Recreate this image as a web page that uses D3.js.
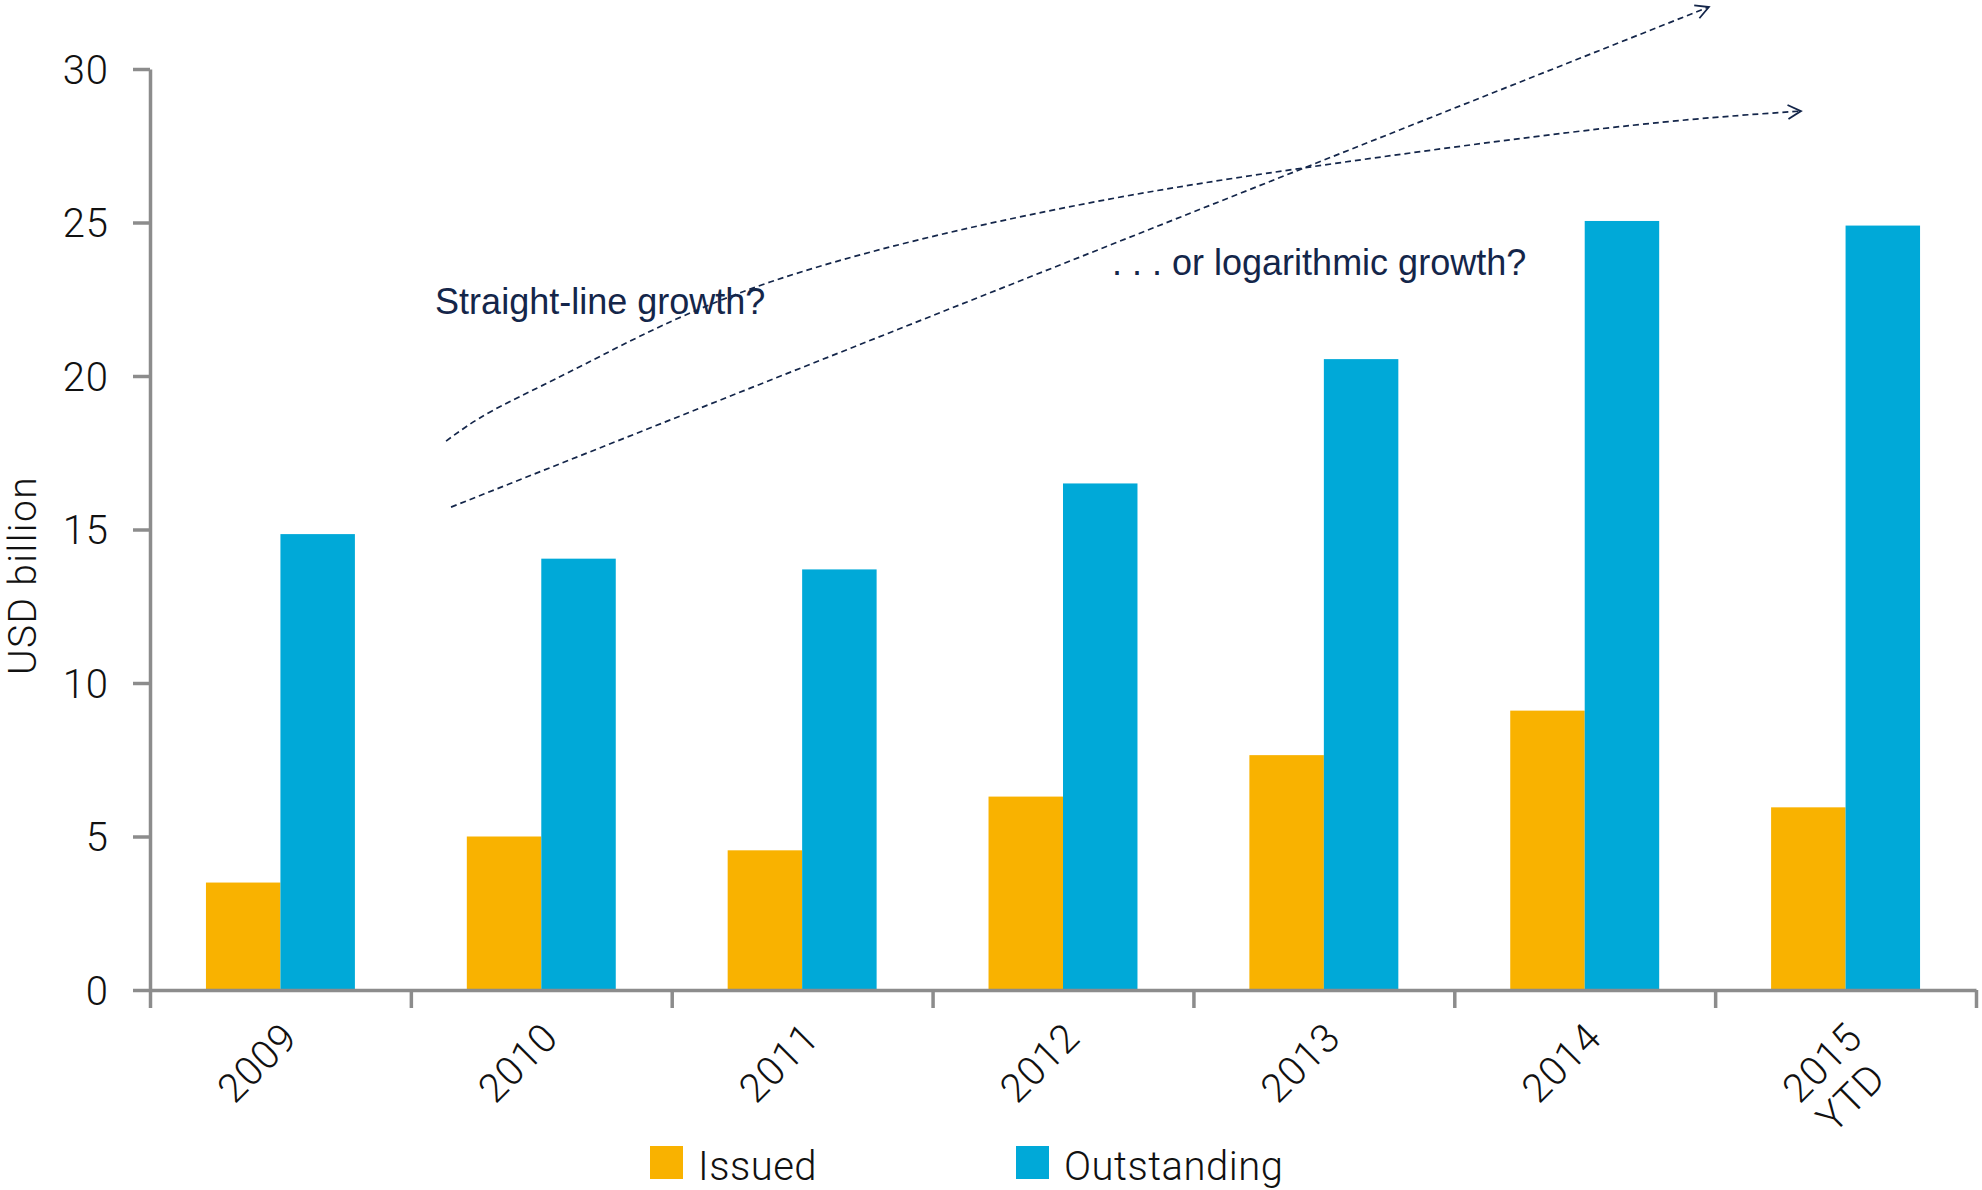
<!DOCTYPE html>
<html>
<head>
<meta charset="utf-8">
<script src="https://cdn.jsdelivr.net/npm/d3@7"></script>
<style>
  html, body { margin: 0; padding: 0; background: #ffffff; }
  svg { display: block; }
</style>
</head>
<body>
<svg id="chart" width="1982" height="1190"></svg>
<script>
// ---- data ----
const categories = ["2009", "2010", "2011", "2012", "2013", "2014", "2015\nYTD"];
const seriesNames = ["Issued", "Outstanding"];
const issued = [3.5, 5.0, 4.55, 6.3, 7.65, 9.1, 5.95];
const outstanding = [14.85, 14.05, 13.7, 16.5, 20.55, 25.05, 24.9];
const yTicks = [0, 5, 10, 15, 20, 25, 30];
const yTitle = "USD billion";
// annotation paths in data units: [category position, value]
const straightLine = [[0.654, 15.73], [5.476, 32.02]];
const logCurve = [[0.635, 17.88], [0.813, 18.87], [1.168, 20.39], [1.877, 23.06], [2.941, 25.37], [3.916, 26.77], [5.069, 28.06], [5.829, 28.63]];
const annotations = [
  { text: "Straight-line growth?", at: [0.593, 22.02] },
  { text: ". . . or logarithmic growth?", at: [3.188, 23.29] }
];

// ---- styles ----
const colors = { Issued: "#F9B200", Outstanding: "#00A9D8" };
const axisColor = "#8c8c8c";
const navy = "#14264a";
const lightFont = "Roboto, 'Liberation Sans', Arial, sans-serif";
const annFont = "'Liberation Sans', Arial, sans-serif";

const svg = d3.select("#chart");
const mLeft = 150, mRight = 1976, mTop = 69, mBottom = 990;

const x0 = d3.scaleBand().domain(categories).range([mLeft, mRight]).paddingInner(0.429).paddingOuter(0.2145);
const x1 = d3.scaleBand().domain(seriesNames).range([0, x0.bandwidth()]);
const xb = d3.scaleLinear().domain([0, categories.length]).range([mLeft, mRight]);
const xc = d3.scaleLinear().domain([-0.5, categories.length - 0.5]).range([mLeft, mRight]);
const y = d3.scaleLinear().domain([0, 30]).range([mBottom, mTop]);

const rows = categories.map((c, i) => ({ cat: c, Issued: issued[i], Outstanding: outstanding[i] }));

// bars
const g = svg.append("g");
g.selectAll("g.grp").data(rows).join("g")
  .attr("class", "grp")
  .attr("transform", d => `translate(${x0(d.cat)},0)`)
  .selectAll("rect").data(d => seriesNames.map(k => ({ key: k, value: d[k] })))
  .join("rect")
  .attr("x", d => x1(d.key))
  .attr("width", x1.bandwidth())
  .attr("y", d => y(d.value))
  .attr("height", d => y(0) - y(d.value))
  .attr("fill", d => colors[d.key]);

// y axis
const yAxis = svg.append("g").attr("transform", `translate(${mLeft},0)`)
  .call(d3.axisLeft(y).tickValues(yTicks).tickSize(17).tickSizeOuter(0).tickPadding(24));
yAxis.select(".domain").attr("stroke", axisColor).attr("stroke-width", 3.5);
yAxis.selectAll(".tick line").attr("stroke", axisColor).attr("stroke-width", 3.5);
yAxis.selectAll(".tick text")
  .style("font-family", lightFont).style("font-size", "40px").style("font-weight", 300)
  .style("letter-spacing", "1px")
  .attr("fill", "#111").attr("dy", "0.36em");

// x axis boundary ticks
const xAxis = svg.append("g").attr("transform", `translate(0,${mBottom})`)
  .call(d3.axisBottom(xb).tickValues(d3.range(categories.length + 1)).tickSize(18).tickSizeOuter(0).tickFormat(""));
xAxis.select(".domain").attr("stroke", axisColor).attr("stroke-width", 3.5);
xAxis.selectAll(".tick line").attr("stroke", axisColor).attr("stroke-width", 3.5);

// x category labels
const xLab = svg.append("g").attr("transform", `translate(0,${mBottom})`)
  .call(d3.axisBottom(x0).tickSize(0).tickFormat(""));
xLab.select(".domain").remove();
xLab.selectAll(".tick").each(function(d) {
  const lines = d.split("\n");
  const t = d3.select(this).append("text")
    .attr("fill", "#111")
    .style("font-family", lightFont).style("font-size", "40px").style("font-weight", 300)
    .style("letter-spacing", "0.8px")
    .attr("text-anchor", "end")
    .attr("transform", "translate(19,50) rotate(-45)");
  lines.forEach((ln, i) => {
    t.append("tspan").attr("x", i === 0 ? 0 : -12).attr("dy", i === 0 ? 0 : 45).text(ln);
  });
});

// y title
svg.append("text")
  .attr("transform", `translate(36,${(mTop + mBottom) / 2 + 46}) rotate(-90)`)
  .attr("text-anchor", "middle")
  .style("font-family", lightFont).style("font-size", "39px").style("font-weight", 300)
  .style("letter-spacing", "1.4px")
  .attr("fill", "#111")
  .text(yTitle);

// annotation arrows
const defs = svg.append("defs");
defs.append("marker").attr("id", "chev")
  .attr("markerUnits", "userSpaceOnUse")
  .attr("markerWidth", 24).attr("markerHeight", 24)
  .attr("refX", 14).attr("refY", 8).attr("orient", "auto")
  .append("path").attr("d", "M1,1 L14,8 L1,15")
  .attr("fill", "none").attr("stroke", navy).attr("stroke-width", 1.8);

svg.append("path").datum(straightLine)
  .attr("d", d3.line().x(d => xc(d[0])).y(d => y(d[1])))
  .attr("fill", "none").attr("stroke", navy).attr("stroke-width", 1.7)
  .attr("stroke-dasharray", "6,4").attr("marker-end", "url(#chev)");
svg.append("path").datum(logCurve)
  .attr("d", d3.line().x(d => xc(d[0])).y(d => y(d[1])).curve(d3.curveNatural))
  .attr("fill", "none").attr("stroke", navy).attr("stroke-width", 1.7)
  .attr("stroke-dasharray", "6,4").attr("marker-end", "url(#chev)");

svg.selectAll("text.ann").data(annotations).join("text")
  .attr("class", "ann")
  .attr("x", d => xc(d.at[0])).attr("y", d => y(d.at[1]))
  .style("font-family", annFont).style("font-size", "36px")
  .attr("fill", navy)
  .text(d => d.text);

// legend
const legendX = [650, 1016];
const lg = svg.append("g");
seriesNames.forEach((k, i) => {
  lg.append("rect").attr("x", legendX[i]).attr("y", 1146).attr("width", 33).attr("height", 33).attr("fill", colors[k]);
  lg.append("text").attr("x", legendX[i] + 48).attr("y", 1180)
    .style("font-family", lightFont).style("font-size", "40px").style("font-weight", 300)
    .style("letter-spacing", "0.5px")
    .attr("fill", "#111").text(k);
});
</script>
</body>
</html>
